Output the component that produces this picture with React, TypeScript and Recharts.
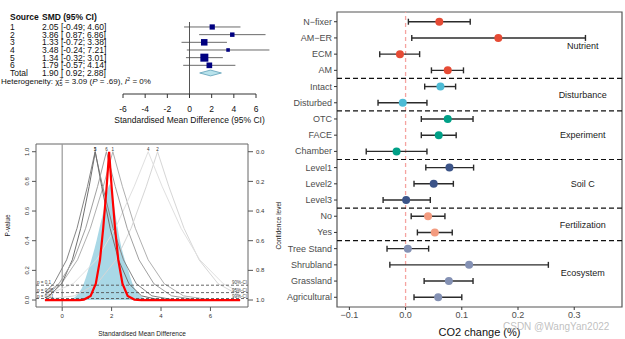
import React from "react";
import {
  ScatterChart,
  Scatter,
  ComposedChart,
  Line,
  Area,
  XAxis,
  YAxis,
  ErrorBar,
  ReferenceLine,
  ReferenceArea,
  ReferenceDot,
} from "recharts";

const SANS = "'Liberation Sans', Arial, Helvetica, sans-serif";

// ---------- right panel: CO2 change by factor ----------
const factors = [
  "N−fixer", "AM−ER", "ECM", "AM",
  "Intact", "Disturbed",
  "OTC", "FACE", "Chamber",
  "Level1", "Level2", "Level3",
  "No", "Yes",
  "Tree Stand", "Shrubland", "Grassland", "Agricultural",
];
const factorGroups = [
  "Nutrient", "Nutrient", "Nutrient", "Nutrient",
  "Disturbance", "Disturbance",
  "Experiment", "Experiment", "Experiment",
  "Soil C", "Soil C", "Soil C",
  "Fertilization", "Fertilization",
  "Ecosystem", "Ecosystem", "Ecosystem", "Ecosystem",
];
const effect = [0.06, 0.165, -0.01, 0.075, 0.062, -0.005, 0.075, 0.059, -0.016, 0.078, 0.05, 0.001, 0.04, 0.052, 0.004, 0.113, 0.077, 0.058];
const lower = [0.005, 0.011, -0.046, 0.046, 0.034, -0.049, 0.028, 0.028, -0.07, 0.036, 0.015, -0.04, 0.01, 0.021, -0.033, -0.028, 0.033, 0.015];
const upper = [0.115, 0.32, 0.025, 0.103, 0.089, 0.038, 0.12, 0.09, 0.038, 0.121, 0.085, 0.044, 0.07, 0.083, 0.041, 0.254, 0.12, 0.1];
const groupNames = ["Nutrient", "Disturbance", "Experiment", "Soil C", "Fertilization", "Ecosystem"];
const co2Ticks = [-0.1, 0, 0.1, 0.2, 0.3];

const groupColors: Record<string, string> = {
  Nutrient: "#E64B35",
  Disturbance: "#4DBBD5",
  Experiment: "#00A087",
  "Soil C": "#3C5488",
  Fertilization: "#F39B7F",
  Ecosystem: "#8491B4",
};

// ---------- top-left: forest plot ----------
const studies = ["1", "2", "3", "4", "5", "6"];
const smd = [2.05, 3.86, 1.33, 3.48, 1.34, 1.79];
const smdLow = [-0.49, 0.87, -0.72, -0.24, -0.32, -0.57];
const smdHigh = [4.6, 6.86, 3.38, 7.21, 3.01, 4.14];
const weights = [13.8, 10.0, 21.3, 6.5, 32.2, 16.1];
const pooledEst = 1.9;
const pooledLow = 0.92;
const pooledHigh = 2.88;
const smdTicks = [-6, -4, -2, 0, 2, 4, 6];

// ---------- bottom-left: p-value functions ----------
const curve1 = [[-0.7, 0.034], [-0.03, 0.11], [0.62, 0.271], [1.14, 0.484], [1.66, 0.764], [2.05, 1], [2.44, 0.764], [2.96, 0.484], [3.48, 0.271], [4.13, 0.11], [4.91, 0.028], [5.95, 0.003], [7.2, 0]];
const curve2 = [[-0.7, 0.003], [0.49, 0.028], [1.41, 0.11], [2.18, 0.271], [2.79, 0.484], [3.4, 0.764], [3.86, 1], [4.32, 0.764], [4.93, 0.484], [5.54, 0.271], [6.31, 0.11], [7.2, 0.029]];
const curve3 = [[-0.7, 0.052], [-0.34, 0.11], [0.18, 0.271], [0.6, 0.484], [1.02, 0.764], [1.33, 1], [1.64, 0.764], [2.06, 0.484], [2.48, 0.271], [3.0, 0.11], [3.63, 0.028], [4.47, 0.003], [7.2, 0]];
const curve4 = [[-0.7, 0.028], [0.44, 0.11], [1.39, 0.271], [2.15, 0.484], [2.91, 0.764], [3.48, 1], [4.05, 0.764], [4.81, 0.484], [5.57, 0.271], [6.52, 0.11], [7.2, 0.05]];
const curve5 = [[-0.7, 0.014], [-0.53, 0.028], [-0.02, 0.11], [0.41, 0.271], [0.75, 0.484], [1.09, 0.764], [1.34, 1], [1.6, 0.764], [1.94, 0.484], [2.28, 0.271], [2.7, 0.11], [3.21, 0.028], [3.89, 0.003], [7.2, 0]];
const curve6 = [[-0.7, 0.038], [-0.13, 0.11], [0.47, 0.271], [0.95, 0.484], [1.43, 0.764], [1.79, 1], [2.15, 0.764], [2.63, 0.484], [3.11, 0.271], [3.71, 0.11], [4.43, 0.028], [5.39, 0.003], [7.2, 0]];
const pooledCurve = [[-0.7, 0], [0.7, 0], [0.88, 0.003], [1.15, 0.028], [1.36, 0.11], [1.53, 0.271], [1.66, 0.484], [1.8, 0.764], [1.9, 1], [2.0, 0.764], [2.14, 0.484], [2.27, 0.271], [2.44, 0.11], [2.65, 0.028], [2.92, 0.003], [3.2, 0], [7.2, 0]];
const blueShade = [[0.3, 0], [0.58, 0.03], [0.85, 0.1], [1.05, 0.2], [1.39, 0.4], [1.53, 0.5], [1.7, 0.62], [1.85, 0.75], [1.93, 0.78], [2.03, 0.7], [2.23, 0.5], [2.34, 0.4], [2.67, 0.2], [2.87, 0.1], [3.15, 0.03], [3.5, 0]];
const studyCurves = [curve1, curve2, curve3, curve4, curve5, curve6];
const curveGrey = ["#b0b0b0", "#d6d6d6", "#858585", "#e0e0e0", "#707070", "#a0a0a0"];
const pLevels = [0.1, 0.05, 0.01];
const pLabels = ["p = 0.1", "p = 0.05", "p = 0.01"];
const ciLabels = ["90%-CI", "95%-CI", "99%-CI"];
const pTicks = [0, 0.2, 0.4, 0.6, 0.8, 1];
const diffTicks = [0, 2, 4, 6];

const toPts = (arr: number[][]) => arr.map(([x, p]) => ({ x, p }));

// ================= components =================

function FactorTick(props: any) {
  const { x, y, payload } = props;
  return (
    <text x={x} y={y} textAnchor="end" dominantBaseline="central" fontSize={9} fill="#4d4d4d" fontFamily={SANS}>
      {factors[payload.value - 1]}
    </text>
  );
}

function EffectPanel() {
  const data = factors.map((name, i) => ({
    name,
    row: i + 1,
    est: effect[i],
    err: [effect[i] - lower[i], upper[i] - effect[i]],
    group: factorGroups[i],
  }));
  const separators: number[] = [];
  factorGroups.forEach((g, i) => {
    if (i < factorGroups.length - 1 && g !== factorGroups[i + 1]) separators.push(i + 1.5);
  });
  const groupMid = groupNames.map((g) => {
    const rows = data.filter((d) => d.group === g).map((d) => d.row);
    return (Math.min(...rows) + Math.max(...rows)) / 2;
  });
  const fmt = (v: number) => (v < 0 ? "−" + Math.abs(v).toFixed(1) : v.toFixed(1));

  return (
    <ScatterChart width={345} height={339} margin={{ top: 12, right: 3, bottom: 2, left: 0 }}>
      <XAxis
        type="number"
        dataKey="est"
        domain={[-0.122, 0.385]}
        ticks={co2Ticks}
        tickFormatter={fmt}
        height={30}
        axisLine={false}
        tickSize={3}
        tickMargin={2}
        stroke="#333"
        tick={{ fill: "#4d4d4d", fontSize: 9, fontFamily: SANS }}
        label={{ value: "CO2 change (%)", position: "insideBottom", offset: 1, fontSize: 11, fill: "#111", fontFamily: SANS }}
      />
      <YAxis
        type="number"
        dataKey="row"
        domain={[0.4, 18.6]}
        reversed
        ticks={factors.map((_, i) => i + 1)}
        interval={0}
        width={57}
        axisLine={false}
        tickSize={3}
        tickMargin={2}
        stroke="#333"
        tick={<FactorTick />}
      />
      <ReferenceLine x={0} stroke="#f5a3a0" strokeDasharray="4 3" strokeWidth={1.3} />
      {separators.map((y) => (
        <ReferenceLine key={y} y={y} stroke="#111" strokeDasharray="5 3" strokeWidth={1.2} />
      ))}
      {groupNames.map((g, i) => (
        <ReferenceDot
          key={g}
          x={0.315}
          y={groupMid[i]}
          r={0}
          stroke="none"
          label={{ value: g, position: "center", fontSize: 9, fill: "#1a1a1a", fontFamily: SANS }}
        />
      ))}
      <Scatter
        data={data}
        isAnimationActive={false}
        shape={(p: any) => <circle cx={p.cx} cy={p.cy} r={4} fill={groupColors[p.payload.group]} />}
      >
        <ErrorBar dataKey="err" direction="x" width={3} stroke="#2b2b2b" strokeWidth={1.4} />
      </Scatter>
      <ReferenceArea x1={-0.122} x2={0.385} y1={0.4} y2={18.6} fill="none" stroke="#555" strokeWidth={1.2} />
    </ScatterChart>
  );
}

function TableTick(props: any) {
  const { x, y, payload } = props;
  const r = payload.value as number;
  const col1 = x - 113;
  const col2 = x - 81;
  const common = { fontSize: 8.5, fill: "#111", fontFamily: SANS, style: { whiteSpace: "pre" as const } };
  const base = y + 3;
  const ci = (e: number, lo: number, hi: number) =>
    `${e.toFixed(2)} [${lo < 0 ? "-" : " "}${Math.abs(lo).toFixed(2)}; ${hi.toFixed(2)}]`;
  if (r === 8) {
    return (
      <text x={x - 122} y={base} {...common} fontSize={8}>
        Heterogeneity: χ<tspan dy={-3} fontSize={5.5}>2</tspan>
        <tspan dx={-3} dy={5} fontSize={5.5}>5</tspan>
        <tspan dy={-2}> = 3.09 (</tspan>
        <tspan fontStyle="italic">P</tspan> = .69), <tspan fontStyle="italic">I</tspan>
        <tspan dy={-3} fontSize={5.5}>2</tspan>
        <tspan dy={3}> = 0%</tspan>
      </text>
    );
  }
  const label = r === 7 ? "Total" : studies[r - 1];
  const value = r === 7 ? ci(pooledEst, pooledLow, pooledHigh) : ci(smd[r - 1], smdLow[r - 1], smdHigh[r - 1]);
  return (
    <g>
      {r === 1 && (
        <>
          <text x={col1} y={base - 10} {...common} fontWeight="bold">Source</text>
          <text x={col2} y={base - 10} {...common} fontWeight="bold">SMD (95% CI)</text>
        </>
      )}
      <text x={col1} y={base} {...common}>{label}</text>
      <text x={col2} y={base} {...common}>{value}</text>
    </g>
  );
}

function ForestPanel() {
  const data = studies.map((s, i) => ({ s, x: smd[i], y: i + 1, w: weights[i] }));
  const mid = (pooledEst - pooledLow) / (pooledHigh - pooledLow);
  return (
    <ScatterChart width={275} height={132} margin={{ top: 22, right: 19, bottom: 6, left: 0 }}>
      <XAxis
        type="number"
        dataKey="x"
        domain={[-6, 6]}
        ticks={smdTicks}
        height={32}
        tickSize={4}
        tickMargin={8}
        stroke="#333"
        tick={{ fill: "#111", fontSize: 8.5, fontFamily: SANS }}
        label={{ value: "Standardised Mean Difference (95% CI)", position: "insideBottom", offset: 3, fontSize: 8.5, fill: "#111", fontFamily: SANS }}
      />
      <YAxis
        type="number"
        dataKey="y"
        domain={[0.35, 9.74]}
        reversed
        ticks={[1, 2, 3, 4, 5, 6, 7, 8]}
        interval={0}
        width={123}
        axisLine={false}
        tickLine={false}
        tickSize={0}
        tickMargin={0}
        tick={<TableTick />}
      />
      <ReferenceLine x={0} stroke="#555" strokeWidth={1} />
      {studies.map((s, i) => (
        <ReferenceLine
          key={s}
          ifOverflow="visible"
          segment={[{ x: smdLow[i], y: i + 1 }, { x: smdHigh[i], y: i + 1 }]}
          stroke="#444"
          strokeWidth={0.8}
        />
      ))}
      <ReferenceArea
        x1={pooledLow}
        x2={pooledHigh}
        y1={6.62}
        y2={7.38}
        ifOverflow="visible"
        shape={(p: any) => (
          <polygon
            points={`${p.x},${p.y + p.height / 2} ${p.x + p.width * mid},${p.y} ${p.x + p.width},${p.y + p.height / 2} ${p.x + p.width * mid},${p.y + p.height}`}
            fill="#b9e3ec"
            stroke="#5f9fb8"
            strokeWidth={0.8}
          />
        )}
      />
      <Scatter
        data={data}
        isAnimationActive={false}
        shape={(p: any) => {
          const side = 1.41 * Math.sqrt(p.payload.w);
          return <rect x={p.cx - side / 2} y={p.cy - side / 2} width={side} height={side} fill="#000080" />;
        }}
      />
    </ScatterChart>
  );
}

function RotTick(props: any) {
  const { x, y, payload } = props;
  const cx = x - 1;
  return (
    <text x={cx} y={y} transform={`rotate(-90, ${cx}, ${y})`} textAnchor="middle" fontSize={6} fill="#333" fontFamily={SANS}>
      {Number(payload.value).toFixed(1)}
    </text>
  );
}

function PValuePanel() {
  return (
    <ComposedChart width={285} height={209} margin={{ top: 14, right: 0, bottom: 0, left: 0 }}>
      <XAxis
        type="number"
        dataKey="x"
        domain={[-1.06, 7.52]}
        allowDataOverflow
        ticks={diffTicks}
        height={32}
        axisLine={false}
        tickSize={4}
        tickMargin={3}
        stroke="#555"
        tick={{ fill: "#333", fontSize: 6, fontFamily: SANS }}
        label={{ value: "Standardised Mean Difference", position: "insideBottom", offset: 3, fontSize: 6.5, fill: "#222", fontFamily: SANS }}
      />
      <YAxis
        type="number"
        domain={[-0.047, 1.052]}
        allowDataOverflow
        ticks={pTicks}
        width={36}
        axisLine={false}
        tickSize={4}
        tickMargin={2}
        stroke="#555"
        tick={<RotTick />}
        label={{ value: "P-value", angle: -90, position: "insideLeft", offset: 8, fontSize: 6.5, fill: "#222", fontFamily: SANS, style: { textAnchor: "middle" } }}
      />
      <YAxis
        yAxisId="conf"
        orientation="right"
        type="number"
        domain={[-0.047, 1.052]}
        allowDataOverflow
        ticks={pTicks}
        tickFormatter={(v: number) => (1 - v).toFixed(1)}
        width={37}
        axisLine={false}
        tickSize={5}
        tickMargin={3}
        stroke="#555"
        tick={{ fill: "#333", fontSize: 6, fontFamily: SANS }}
        label={{ value: "Confidence level", angle: -90, position: "insideRight", offset: 6, fontSize: 6.5, fill: "#222", fontFamily: SANS, style: { textAnchor: "middle" } }}
      />
      <Area
        data={toPts(blueShade)}
        dataKey="p"
        type="monotone"
        baseValue={0}
        fill="#a9d8e6"
        fillOpacity={1}
        stroke="none"
        isAnimationActive={false}
      />
      <ReferenceLine x={0} stroke="#999" strokeWidth={1.2} />
      {studyCurves.map((c, i) => (
        <Line
          key={i}
          data={toPts(c)}
          dataKey="p"
          type="linear"
          dot={false}
          stroke={curveGrey[i]}
          strokeWidth={1}
          isAnimationActive={false}
        />
      ))}
      {pLevels.map((lv, i) => (
        <ReferenceLine
          key={lv}
          y={lv}
          stroke="#555"
          strokeDasharray="3 2"
          strokeWidth={0.9}
          label={{ value: pLabels[i], position: "insideBottomLeft", offset: 1, fontSize: 4.5, fill: "#444", fontFamily: SANS }}
        />
      ))}
      {pLevels.map((lv, i) => (
        <ReferenceLine
          key={"ci" + lv}
          y={lv}
          stroke="none"
          label={{ value: ciLabels[i], position: "insideBottomRight", offset: 1, fontSize: 4.5, fill: "#444", fontFamily: SANS }}
        />
      ))}
      <Line
        data={toPts(pooledCurve)}
        dataKey="p"
        type="linear"
        dot={false}
        stroke="#ff0000"
        strokeWidth={2.2}
        isAnimationActive={false}
      />
      {studies.map((s, i) => (
        <ReferenceDot
          key={s}
          x={smd[i]}
          y={1}
          r={0}
          stroke="none"
          ifOverflow="visible"
          label={{ value: s, position: "top", offset: 1, fontSize: 4.5, fill: "#333", fontFamily: SANS }}
        />
      ))}
      <ReferenceArea x1={-1.06} x2={7.52} y1={-0.047} y2={1.052} fill="none" stroke="#666" strokeWidth={1} />
    </ComposedChart>
  );
}

export default function App() {
  return (
    <div style={{ position: "absolute", left: 0, top: 0, width: 625, height: 339, background: "#fff", overflow: "hidden" }}>
      <div style={{ position: "absolute", left: 0, top: 0 }}>
        <ForestPanel />
      </div>
      <div style={{ position: "absolute", left: 0, top: 130 }}>
        <PValuePanel />
      </div>
      <div style={{ position: "absolute", left: 280, top: 0 }}>
        <EffectPanel />
      </div>
      <div
        style={{
          position: "absolute",
          left: 503,
          top: 321,
          fontFamily: SANS,
          fontSize: 10,
          color: "rgba(170,170,170,0.75)",
          whiteSpace: "nowrap",
        }}
      >
        CSDN @WangYan2022
      </div>
    </div>
  );
}
